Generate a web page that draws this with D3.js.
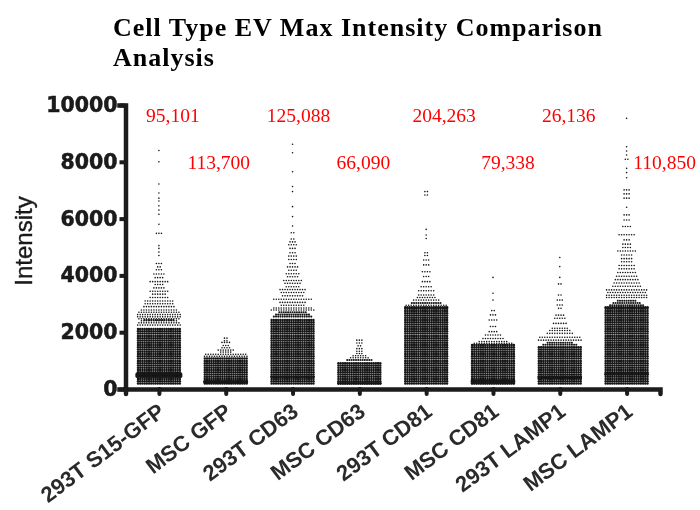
<!DOCTYPE html>
<html>
<head>
<meta charset="utf-8">
<script src="https://cdn.jsdelivr.net/npm/d3@7"></script>
<style>
	html, body { margin: 0; background: #fff; }
	svg { display: block; }
</style>
</head>
<body>
<script>
const categories = ["293T S15-GFP", "MSC GFP", "293T CD63", "MSC CD63", "293T CD81", "MSC CD81", "293T LAMP1", "MSC LAMP1"];
const counts = ["95,101", "113,700", "125,088", "66,090", "204,263", "79,338", "26,136", "110,850"];
const yTicks = [0, 2000, 4000, 6000, 8000, 10000];

// rows of the solid part of each swarm, every one is full width
const denseLevels = [190, 270, 350, 430, 510, 590, 670, 750, 830, 910, 990, 1070, 1150, 1230, 1310, 1390, 1470, 1550, 1630, 1710, 1790, 1870, 1950, 2030, 2110, 2190, 2270, 2350, 2430, 2510, 2590, 2670, 2750, 2830, 2880];
const denseTops = [2170, 1080, 2490, 960, 2880, 1550, 1490, 2880];
const denseCount = 20;

// darker lines across the solid part
const bands = [
	[440, 470, 500, 530],
	[240, 270],
	[430],
	[200],
	[],
	[210, 290],
	[390, 430],
	[520]
];

// dark narrower rows sitting on top of the solid part
const caps = [
	[[2430, 14]],
	[],
	[[2550, 18], [2620, 16], [2700, 13]],
	[[1020, 12]],
	[[3030, 14]],
	[],
	[[1560, 16], [1630, 12]],
	[[2950, 16], [3030, 13], [3110, 9]]
];

// [intensity, dots in the row] above the solid part
const tailGfp293 = [[2250, 18], [2330, 17], [2400, 15], [2470, 17], [2540, 18], [2620, 18], [2700, 17], [2780, 15], [2900, 13], [3000, 12], [3100, 12], [3220, 8], [3340, 6], [3440, 8], [3560, 5], [3680, 4], [3780, 8], [3920, 4], [4050, 5], [4200, 3], [4300, 2], [4420, 3], [4700, 1], [4820, 1], [4950, 1], [5050, 1], [5480, 3], [5800, 1], [6150, 1], [6300, 1], [6450, 1], [6620, 1], [6720, 1], [6900, 1], [7220, 1], [8000, 1], [8400, 1]];
const tailGfpMsc = [[1150, 18], [1220, 17], [1300, 5], [1370, 7], [1450, 4], [1530, 3], [1640, 4], [1700, 2], [1790, 2]];
const tailCd63293 = [[2780, 18], [2850, 16], [2950, 10], [3050, 11], [3160, 16], [3280, 9], [3400, 10], [3500, 11], [3600, 6], [3720, 7], [3820, 8], [3950, 5], [4060, 6], [4180, 4], [4300, 5], [4420, 3], [4560, 4], [4680, 4], [4800, 3], [4950, 3], [5080, 4], [5180, 3], [5280, 2], [5500, 2], [5740, 1], [6070, 1], [6420, 1], [6950, 1], [7130, 1], [7650, 1], [8320, 1], [8620, 1]];
const tailCd63Msc = [[1100, 8], [1170, 6], [1250, 3], [1330, 3], [1420, 3], [1520, 2], [1620, 3], [1720, 3]];
const tailCd81293 = [[2950, 17], [3130, 11], [3220, 8], [3310, 7], [3460, 7], [3600, 5], [3780, 4], [3960, 3], [4130, 4], [4370, 3], [4540, 3], [4700, 2], [4800, 2], [5300, 1], [5420, 1], [5620, 1], [6830, 2], [6950, 2]];
const tailCd81Msc = [[1610, 16], [1670, 12], [1780, 9], [1900, 7], [2020, 4], [2200, 3], [2430, 4], [2610, 3], [2760, 2], [3130, 1], [3370, 1], [3930, 1]];
const tailLamp293 = [[1720, 18], [1820, 17], [1960, 11], [2060, 9], [2140, 7], [2310, 6], [2490, 5], [2600, 4], [2840, 2], [2960, 3], [3130, 3], [3310, 2], [3700, 2], [3930, 1], [4310, 1], [4630, 1]];
const tailLampMsc = [[3220, 17], [3300, 17], [3400, 16], [3490, 17], [3620, 12], [3730, 11], [3850, 10], [3970, 9], [4100, 8], [4230, 7], [4350, 7], [4480, 5], [4590, 5], [4720, 5], [4860, 8], [4980, 4], [5100, 4], [5250, 3], [5430, 7], [5720, 4], [5950, 3], [6130, 3], [6400, 1], [6720, 3], [6870, 3], [7010, 3], [7440, 1], [7620, 1], [7770, 1], [8090, 2], [8240, 1], [8380, 1], [8530, 1], [9530, 1]];
const tails = [tailGfp293, tailGfpMsc, tailCd63293, tailCd63Msc, tailCd81293, tailCd81Msc, tailLamp293, tailLampMsc];

const width = 700;
const height = 510;
const solidStep = 2.2; // pixels between dots in a solid row
const tailStep = 2.5; // pixels between dots in a tail row
const labelOffsets = [14, -7, 6, 4, 18, 15, 9, 38]; // red counts, from the category centre

const svg = d3.select("body").append("svg")
	.attr("width", width)
	.attr("height", height)
	.attr("viewBox", [0, 0, width, height]);

// the reference is a soft, resampled scan
const defs = svg.append("defs");
defs.append("filter").attr("id", "soft")
	.append("feGaussianBlur").attr("stdDeviation", 0.5);

const x = d3.scalePoint().domain(categories).range([125.5, 660]).padding(0.5);
const y = d3.scaleLinear().domain([0, 10000]).range([389, 105]);

const chart = svg.append("g").attr("filter", "url(#soft)");

// Build one row of dots per level, for every category
const rows = categories.flatMap((name, i) => {
	const solid = denseLevels.filter((v) => v <= denseTops[i]).map((v) => ({name, value: v, n: denseCount, r: 1.25, step: solidStep}));
	const band = bands[i].map((v) => ({name, value: v, n: i === 0 ? 21 : denseCount, r: 1.4, step: solidStep}));
	const cap = caps[i].map(([v, n]) => ({name, value: v, n, r: 1.05, step: solidStep}));
	const tail = tails[i].map(([v, n]) => ({name, value: v, n, r: 0.8, step: tailStep}));
	return [...solid, ...band, ...cap, ...tail];
});

chart.append("g")
	.attr("fill", "#141414")
	.selectAll("g")
	.data(rows)
	.join("g")
	.selectAll("circle")
	.data((d) => d3.range(d.n).map((k) => ({...d, k})))
	.join("circle")
	.attr("cx", (d) => x(d.name) + (d.k - (d.n - 1) / 2) * d.step)
	.attr("cy", (d) => y(d.value))
	.attr("r", (d) => d.r);

// Axes
const yAxis = chart.append("g")
	.attr("transform", `translate(${x.range()[0]},0)`)
	.call(d3.axisLeft(y).tickValues(yTicks).tickFormat(d3.format("d")).tickSize(6).tickPadding(2));

const xAxis = chart.append("g")
	.attr("transform", `translate(0,${y(0)})`)
	.call(d3.axisBottom(x).tickSize(5));

yAxis.select(".domain").attr("stroke", "#1a1a1a").attr("stroke-width", 4.5).attr("stroke-linecap", "square");
yAxis.selectAll(".tick line").attr("stroke", "#1a1a1a").attr("stroke-width", 4);
yAxis.selectAll(".tick text")
	.attr("font-family", "'DejaVu Sans'")
	.attr("font-weight", "bold")
	.attr("font-size", 20.5)
	.attr("fill", "#1a1a1a")
	.attr("stroke", "#1a1a1a")
	.attr("stroke-width", 0.5);

xAxis.select(".domain").attr("stroke", "#1a1a1a").attr("stroke-width", 4.5).attr("stroke-linecap", "round");
xAxis.selectAll(".tick line").attr("stroke", "#1a1a1a").attr("stroke-width", 4).attr("stroke-linecap", "round");
xAxis.selectAll(".tick text")
	.attr("font-family", "'Liberation Sans'")
	.attr("font-weight", "bold")
	.attr("font-size", 22)
	.attr("fill", "#2a2a2a")
	.attr("text-anchor", "end")
	.attr("dy", 0)
	.attr("transform", "translate(2,19) rotate(-37)");

chart.append("text")
	.attr("transform", "translate(32,241) rotate(-90)")
	.attr("text-anchor", "middle")
	.attr("font-family", "'Liberation Sans'")
	.attr("font-size", 24)
	.attr("fill", "#1a1a1a")
	.attr("stroke", "#1a1a1a")
	.attr("stroke-width", 0.35)
	.text("Intensity");

// Title and the red counts stay sharp, they were typed on top of the scan
const title = svg.append("g")
	.attr("font-family", "'Liberation Serif'")
	.attr("font-weight", "bold")
	.attr("font-size", 26)
	.attr("letter-spacing", 1)
	.attr("fill", "#000");
title.append("text").attr("x", 113).attr("y", 36).text("Cell Type EV Max Intensity Comparison");
title.append("text").attr("x", 113).attr("y", 66).text("Analysis");

svg.append("g")
	.attr("font-family", "'Liberation Serif'")
	.attr("font-size", 19.5)
	.attr("fill", "#f00")
	.attr("text-anchor", "middle")
	.selectAll("text")
	.data(counts)
	.join("text")
	.attr("x", (d, i) => x(categories[i]) + labelOffsets[i])
	.attr("y", (d, i) => i % 2 === 0 ? 122 : 169)
	.text((d) => d);
</script>
</body>
</html>
